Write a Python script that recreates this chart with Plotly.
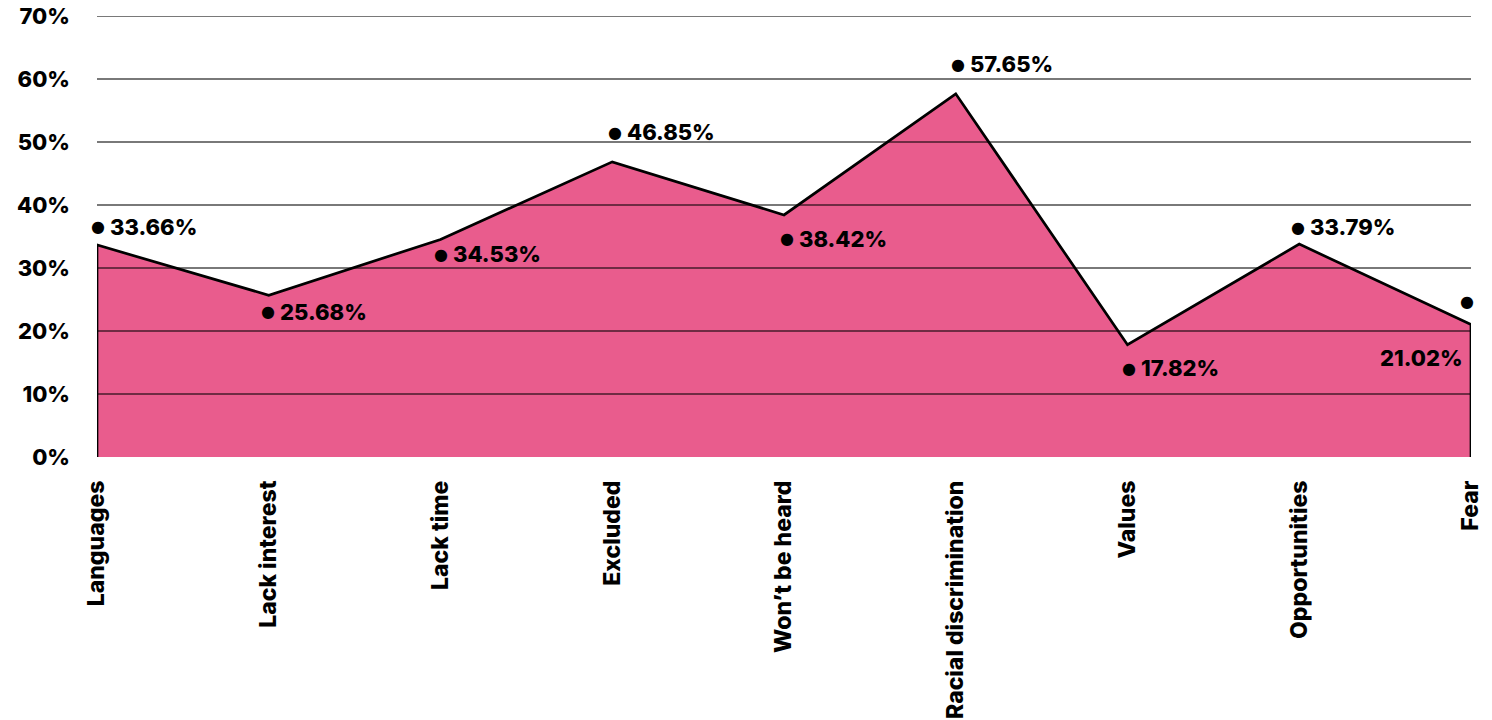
import plotly.graph_objects as go

categories = ["Languages", "Lack interest", "Lack time", "Excluded", "Won’t be heard",
              "Racial discrimination", "Values", "Opportunities", "Fear"]
values = [33.66, 25.68, 34.53, 46.85, 38.42, 57.65, 17.82, 33.79, 21.02]
y_ticks = [0, 10, 20, 30, 40, 50, 60, 70]

# label placement (pixel offsets of the dot relative to the data point; +down)
dot_dx = [0.6, -0.3, 0.7, 2.7, 3, 2.3, 1.3, -1, -3.7]
dot_dy = [-18, 16.5, 15, -29.5, 24, -29.5, 23.5, -17, -23.5]

FONT = "Inter, Liberation Sans, Arial, sans-serif"
PINK = "#E95C8D"

idx = list(range(len(categories)))
xs = [idx[0]] + idx + [idx[-1]]
ys = [0] + values + [0]

fig = go.Figure()
fig.add_trace(go.Scatter(
    x=xs, y=ys, mode="lines", fill="toself", fillcolor=PINK,
    line=dict(color="black", width=2.7), cliponaxis=False,
    hoverinfo="skip", showlegend=False,
))

shapes = []
for t in y_ticks[1:]:
    shapes.append(dict(type="line", xref="paper", yref="y", x0=0, x1=1, y0=t, y1=t,
                       line=dict(color="rgba(0,0,0,0.7)", width=1.3), layer="above"))

annotations = []
lab_font = dict(family=FONT, size=22, color="black", weight=800)
for i, (v, dx, dy) in enumerate(zip(values, dot_dx, dot_dy)):
    annotations.append(dict(x=i, y=v, xref="x", yref="y", text="●", showarrow=False,
                            xanchor="center", yanchor="middle", xshift=dx, yshift=-dy,
                            borderpad=0,
                            font=dict(family="DejaVu Sans", size=16, color="black")))
    label = f"{v:.2f}%"
    if i == len(values) - 1:
        annotations.append(dict(x=i, y=v, xref="x", yref="y", text=label, showarrow=False,
                                xanchor="right", yanchor="middle", xshift=-6, yshift=-33,
                                font=lab_font))
    else:
        annotations.append(dict(x=i, y=v, xref="x", yref="y", text=label, showarrow=False,
                                xanchor="left", yanchor="middle", xshift=dx + 10, yshift=-dy,
                                font=lab_font))

fig.update_layout(
    width=1492, height=720,
    margin=dict(l=97, r=21, t=16, b=263, autoexpand=False),
    paper_bgcolor="white", plot_bgcolor="white",
    showlegend=False,
    shapes=shapes, annotations=annotations,
    xaxis=dict(range=[0, len(categories) - 1], tickvals=idx, ticktext=categories,
               tickangle=-90, showgrid=False, zeroline=False, showline=False,
               ticks="", ticklabelstandoff=18, automargin=False,
               tickfont=dict(family=FONT, size=23, color="black", weight=800)),
    yaxis=dict(range=[0, 70], tickvals=y_ticks, ticktext=[f"{t}%" for t in y_ticks],
               showgrid=False, zeroline=False, showline=False, ticks="",
               ticklabelstandoff=26, automargin=False,
               tickfont=dict(family=FONT, size=22, color="black", weight=800)),
)

fig.write_html("out.html")
